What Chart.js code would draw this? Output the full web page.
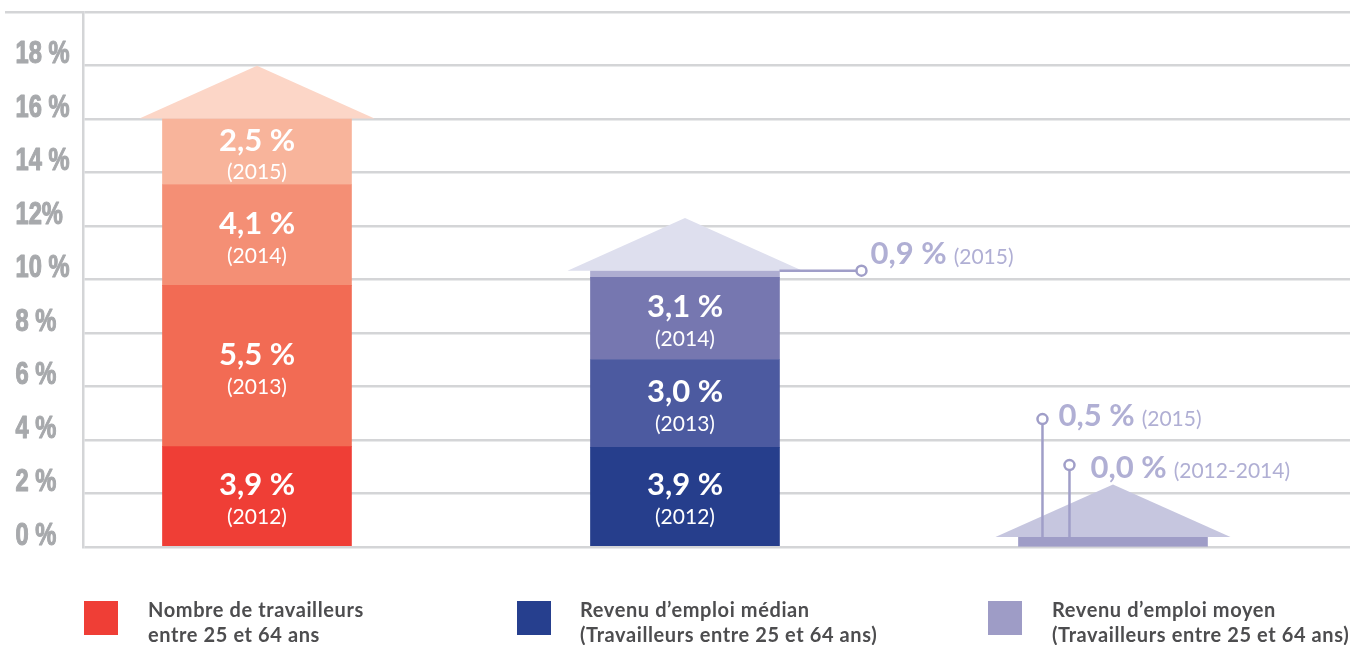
<!DOCTYPE html>
<html>
<head>
<meta charset="utf-8">
<script src="https://cdn.jsdelivr.net/npm/chart.js@4.4.1/dist/chart.umd.min.js"></script>
<style>
  html, body { margin: 0; padding: 0; background: #ffffff; }
  #wrap { position: relative; width: 1350px; height: 645px; overflow: hidden; }
  #chart { position: absolute; left: 0; top: 0; }
  .leg { position: absolute; top: 597px; font-family: Lato, "Noto Sans", sans-serif; font-weight: 700; font-size: 20px; letter-spacing: 0.6px; line-height: 25px; color: #4d4d4f; white-space: nowrap; }
  .sw { position: absolute; top: 601px; width: 34px; height: 34px; }
</style>
</head>
<body>
<div id="wrap">
  <canvas id="chart" width="1350" height="645"></canvas>
  <div id="legend"></div>
</div>
<script>
// ---------- data ----------
const categories = ['Nombre de travailleurs', 'Revenu d’emploi médian', 'Revenu d’emploi moyen'];
const years = ['2012', '2013', '2014', '2015'];
// segment heights (in %)
const seg2012 = [3.75, 3.73, 0];
const seg2013 = [6.03, 3.28, 0];
const seg2014 = [3.77, 3.07, 0];
const seg2015 = [2.47, 0.25, 0.37];
// labels written inside the segments
const lbl2012 = ['3,9 %', '3,9 %', null];
const lbl2013 = ['5,5 %', '3,0 %', null];
const lbl2014 = ['4,1 %', '3,1 %', null];
const lbl2015 = ['2,5 %', null, null];
// y-axis tick values / labels
const yTickValues = [0, 2, 4, 6, 8, 10, 12, 14, 16, 18, 20];
const yTickLabels = ['0 %', '2 %', '4 %', '6 %', '8 %', '10 %', '12%', '14 %', '16 %', '18 %', ''];
// callouts outside the bars
const calloutValues = ['0,9 %', '0,5 %', '0,0 %'];
const calloutYears = ['(2015)', '(2015)', '(2012-2014)'];
const calloutCategory = [1, 2, 2];
// legend
const legendLine1 = ['Nombre de travailleurs', 'Revenu d’emploi médian', 'Revenu d’emploi moyen'];
const legendLine2 = ['entre 25 et 64 ans', '(Travailleurs entre 25 et 64 ans)', '(Travailleurs entre 25 et 64 ans)'];

// ---------- styles ----------
const colors2012 = ['#ef3e36', '#263e8c', '#9f9dc7'];
const colors2013 = ['#f26b54', '#4c5aa0', '#9f9dc7'];
const colors2014 = ['#f48f75', '#7677b0', '#9f9dc7'];
const colors2015 = ['#f8b49b', '#aeadd1', '#9f9dc7'];
const headColors = ['#fcd6c7', '#dedfee', '#c6c6df'];
const legendColors = ['#ef3e36', '#263f8e', '#9e9cc6'];
const legendX = [148, 580, 1052];
const swatchX = [84, 517, 988];
const GRID = '#d4d5d7';
const TICK_COLOR = '#a7a9ac';
const CALLOUT_LINE = '#a09ec8';
const CALLOUT_TEXT = '#b0afd4';
const BAR_W = 189;
// callout geometry (px): type 'h' = horizontal from bar right edge, 'v' = vertical from bar top
const calloutGeom = [
  { type: 'h', dx: 82, textDx: 9, baseDy: -7 },
  { type: 'v', fromLeft: 24, rise: 118, textDx: 16, baseDy: 7 },
  { type: 'v', fromLeft: 51, rise: 72, textDx: 21, baseDy: 13 }
];

const segs = [seg2012, seg2013, seg2014, seg2015];
const lbls = [lbl2012, lbl2013, lbl2014, lbl2015];
const cols = [colors2012, colors2013, colors2014, colors2015];

const datasets = years.map((yr, d) => ({
  label: yr,
  data: segs[d].map((v, i) => ({ x: i, y: v })),
  backgroundColor: cols[d],
  borderWidth: 0,
  barThickness: BAR_W,
  stack: 's'
}));

const HEAD_RISE = 1.97;   // arrow head height in axis units
const HEAD_OVER = 23;     // arrow head overhang, px

const decorPlugin = {
  id: 'decor',
  afterDatasetsDraw(chart) {
    const ctx = chart.ctx;
    const ys = chart.scales.y;
    // arrow heads
    categories.forEach((c, i) => {
      let total = 0;
      segs.forEach(s => total += s[i]);
      const el = chart.getDatasetMeta(0).data[i];
      const cx = el.x, half = BAR_W / 2 + HEAD_OVER;
      const base = ys.getPixelForValue(total);
      const tip = ys.getPixelForValue(total + HEAD_RISE);
      ctx.save();
      ctx.fillStyle = headColors[i];
      ctx.beginPath();
      ctx.moveTo(cx - half, base);
      ctx.lineTo(cx, tip);
      ctx.lineTo(cx + half, base);
      ctx.closePath();
      ctx.fill();
      ctx.restore();
    });
    // labels inside segments
    ctx.save();
    ctx.fillStyle = '#ffffff';
    ctx.textAlign = 'center';
    ctx.textBaseline = 'middle';
    lbls.forEach((arr, d) => {
      const meta = chart.getDatasetMeta(d);
      arr.forEach((t, i) => {
        if (!t) return;
        const el = meta.data[i];
        const cy = (el.y + el.base) / 2;
        ctx.font = '700 31px Lato';
        ctx.fillText(t, el.x, cy - 11);
        ctx.font = '400 21px Lato';
        ctx.fillText('(' + years[d] + ')', el.x, cy + 21);
      });
    });
    ctx.restore();
    // callouts
    calloutValues.forEach((v, k) => {
      const i = calloutCategory[k];
      const g = calloutGeom[k];
      let total = 0;
      segs.forEach(s => total += s[i]);
      const el = chart.getDatasetMeta(0).data[i];
      const top = ys.getPixelForValue(total);
      const left = el.x - BAR_W / 2, right = el.x + BAR_W / 2;
      let x0, y0, cx, cy;
      if (g.type === 'h') { x0 = right; y0 = top; cx = right + g.dx; cy = top; }
      else { x0 = left + g.fromLeft; y0 = top; cx = x0; cy = top - g.rise; }
      ctx.save();
      ctx.strokeStyle = CALLOUT_LINE;
      ctx.lineWidth = 2.5;
      ctx.beginPath();
      ctx.moveTo(x0, y0);
      if (g.type === 'h') ctx.lineTo(cx - 5, cy); else ctx.lineTo(cx, cy + 5);
      ctx.stroke();
      ctx.beginPath();
      ctx.arc(cx, cy, 5, 0, Math.PI * 2);
      ctx.fillStyle = '#ffffff';
      ctx.fill();
      ctx.stroke();
      ctx.fillStyle = CALLOUT_TEXT;
      ctx.textAlign = 'left';
      ctx.textBaseline = 'alphabetic';
      ctx.font = '700 31px Lato';
      const tx = cx + g.textDx, ty = cy + g.baseDy;
      ctx.fillText(v, tx, ty);
      const w = ctx.measureText(v).width;
      ctx.font = '400 21px Lato';
      ctx.fillText(calloutYears[k], tx + w + 7, ty);
      ctx.restore();
    });
  },
  afterDraw(chart) {
    // condensed y tick labels, placed from the library's own y scale
    const ctx = chart.ctx;
    const ys = chart.scales.y;
    ctx.save();
    ctx.fillStyle = TICK_COLOR;
    ctx.strokeStyle = TICK_COLOR;
    ctx.lineWidth = 1.2;
    ctx.lineJoin = 'round';
    ctx.font = '700 32px "Liberation Sans", Arial, sans-serif';
    ctx.textAlign = 'left';
    ctx.textBaseline = 'middle';
    ys.ticks.forEach((t) => {
      const k = yTickValues.indexOf(t.value);
      const lab = k >= 0 ? yTickLabels[k] : '';
      if (!lab) return;
      const y = ys.getPixelForValue(t.value) - 11;
      ctx.save();
      ctx.translate(ys.left + 0.5, y);
      ctx.scale(0.74, 1);
      ctx.fillText(lab, 0, 0);
      ctx.strokeText(lab, 0, 0);
      ctx.restore();
    });
    ctx.restore();
  }
};

new Chart(document.getElementById('chart'), {
  type: 'bar',
  data: { datasets },
  options: {
    responsive: false,
    animation: false,
    layout: { padding: { left: 15, top: 12, right: 0, bottom: 98 } },
    plugins: { legend: { display: false }, tooltip: { enabled: false } },
    scales: {
      x: {
        type: 'linear',
        min: -0.4065,
        max: 2.5538,
        offset: false,
        bounds: 'data',
        stacked: true,
        display: false,
        grid: { display: false, offset: false }
      },
      y: {
        stacked: true,
        min: 0,
        max: 20,
        afterBuildTicks(scale) { scale.ticks = yTickValues.map(v => ({ value: v })); },
        afterFit(scale) { scale.width = 68; scale.paddingTop = 0; scale.paddingBottom = 0; },
        border: { display: true, color: GRID, width: 2.5 },
        grid: {
          color: GRID,
          lineWidth: 2.5,
          drawTicks: true,
          tickLength: 78,
          tickColor: (c) => (c.tick && c.tick.value === 20) ? GRID : 'rgba(0,0,0,0)'
        },
        ticks: {
          crossAlign: 'far',
          color: 'rgba(0,0,0,0)',
          font: { size: 20 },
          callback: (v) => { const k = yTickValues.indexOf(v); return k >= 0 ? yTickLabels[k] : ''; }
        }
      }
    }
  },
  plugins: [decorPlugin]
});

// legend
const legend = document.getElementById('legend');
legendLine1.forEach((t, i) => {
  const sw = document.createElement('div');
  sw.className = 'sw';
  sw.style.left = swatchX[i] + 'px';
  sw.style.background = legendColors[i];
  legend.appendChild(sw);
  const tx = document.createElement('div');
  tx.className = 'leg';
  tx.style.left = legendX[i] + 'px';
  tx.innerHTML = t + '<br>' + legendLine2[i];
  legend.appendChild(tx);
});
</script>
</body>
</html>
